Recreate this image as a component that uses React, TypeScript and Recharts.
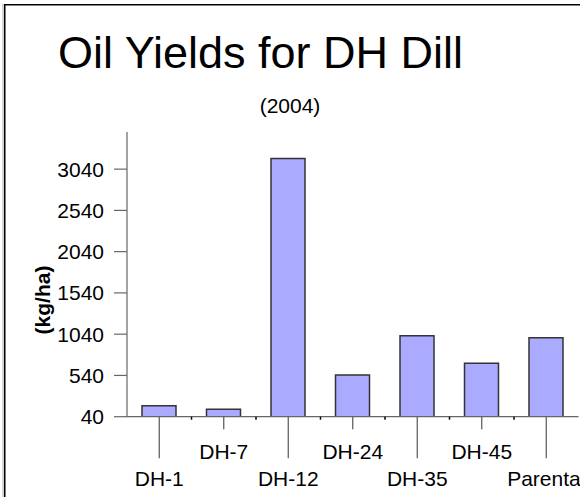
import React from 'react';
import { BarChart, Bar, XAxis, YAxis, Label } from 'recharts';

const categories = ['DH-1', 'DH-7', 'DH-12', 'DH-24', 'DH-35', 'DH-45', 'Parental'];
const yields = [173, 130, 3170, 545, 1020, 687, 997];
const yTicks = [40, 540, 1040, 1540, 2040, 2540, 3040];
const yDomain = [40, 3490];
const titleText = 'Oil Yields for DH Dill';
const subtitleText = '(2004)';
const yLabelText = '(kg/ha)';

const data = categories.map((c, i) => ({ name: c, value: yields[i] }));

const FONT = '"Liberation Sans", Arial, Helvetica, sans-serif';
const W = 580;
const H = 497;
const PLOT_LEFT = 127;
const PLOT_RIGHT_MARGIN = 1.5;
const HALF_BAND = (W - PLOT_LEFT - PLOT_RIGHT_MARGIN) / categories.length / 2;

const XTick = (props: any) => {
  const { x, y, payload, index } = props;
  const upper = index % 2 === 1;
  const len = upper ? 12.5 : 41.5;
  const baseline = upper ? 42.5 : 69.5;
  return (
    <g>
      <line x1={x} y1={y} x2={x} y2={y + len} stroke="#555" strokeWidth={1.2} />
      {index > 0 && (
        <line x1={x - HALF_BAND} y1={y} x2={x - HALF_BAND} y2={y + 3} stroke="#000" strokeWidth={1.5} />
      )}
      <text x={x} y={y + baseline} textAnchor="middle" fontSize={21} fill="#000" fontFamily={FONT}>
        {payload.value}
      </text>
    </g>
  );
};

const YLabel = () => (
  <text
    x={42}
    y={300}
    transform="rotate(-90 42 300)"
    textAnchor="middle"
    dominantBaseline="central"
    fontSize={21}
    fontWeight="bold"
    fill="#000"
    fontFamily={FONT}
  >
    {yLabelText}
  </text>
);

export default function App() {
  return (
    <div style={{ position: 'absolute', left: 0, top: 0, width: W, height: H, background: '#fff', overflow: 'hidden' }}>
      <BarChart
        width={W}
        height={H}
        data={data}
        margin={{ top: 132, right: PLOT_RIGHT_MARGIN, bottom: 0, left: 0 }}
        barSize={34}
        style={{ fontFamily: FONT }}
      >
        <XAxis
          dataKey="name"
          height={80.3}
          interval={0}
          tickSize={0}
          tickMargin={0}
          tickLine={false}
          axisLine={{ stroke: '#666', strokeWidth: 1.2 }}
          tick={<XTick />}
        />
        <YAxis
          width={PLOT_LEFT}
          domain={yDomain}
          ticks={yTicks}
          interval={0}
          allowDataOverflow
          tickSize={13}
          tickMargin={10}
          axisLine={{ stroke: '#666', strokeWidth: 1.2 }}
          tickLine={{ stroke: '#666', strokeWidth: 1.2 }}
          tick={{ fontSize: 21, fill: '#000', fontFamily: FONT }}
        >
          <Label content={<YLabel />} />
        </YAxis>
        <Bar dataKey="value" fill="#AAAAFF" stroke="#333" strokeWidth={1.5} isAnimationActive={false} />
      </BarChart>
      <svg
        width={W}
        height={H}
        style={{ position: 'absolute', left: 0, top: 0, pointerEvents: 'none' }}
      >
        <line x1={3} y1={4} x2={3} y2={H} stroke="#aaa" strokeWidth={1} />
        <line x1={4.75} y1={4} x2={4.75} y2={H} stroke="#000" strokeWidth={1.5} />
        <line x1={4} y1={4.75} x2={W} y2={4.75} stroke="#000" strokeWidth={1.5} />
        <text x={58} y={68} fontSize={45} fill="#000" fontFamily={FONT}>
          {titleText}
        </text>
        <text x={290} y={113} fontSize={21} textAnchor="middle" fill="#000" fontFamily={FONT}>
          {subtitleText}
        </text>
      </svg>
    </div>
  );
}
